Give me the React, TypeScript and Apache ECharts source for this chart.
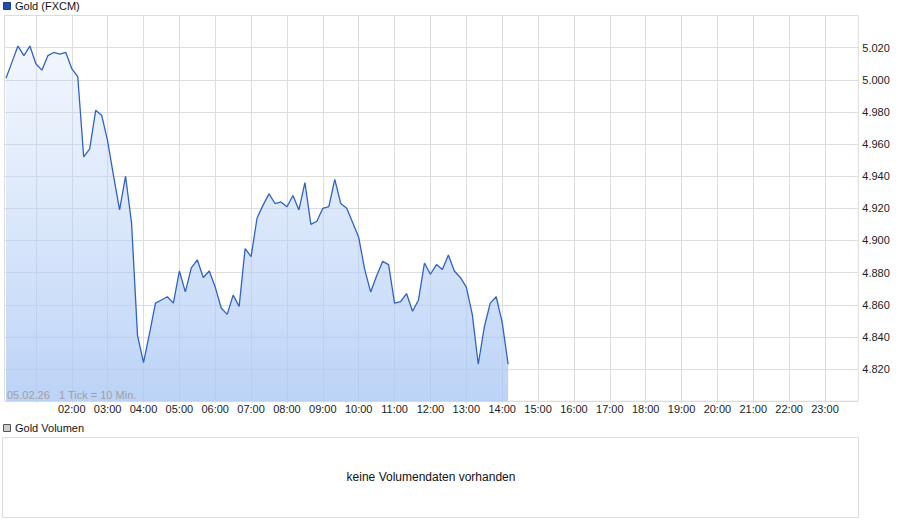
import React, { useEffect, useRef } from "react";
import * as echarts from "echarts";

// Gold (FXCM) intraday, 10-minute ticks starting 00:10, price in USD
const startMinute = 10;
const stepMinutes = 10;
const prices = [
  5001, 5011, 5021, 5015, 5021, 5010, 5006, 5015, 5017, 5016,
  5017, 5007, 5002, 4952, 4957, 4981, 4978, 4962, 4940, 4919,
  4940, 4911, 4841, 4824, 4842, 4861, 4863, 4865, 4861, 4881,
  4868, 4883, 4888, 4877, 4881, 4871, 4858, 4854, 4866, 4859,
  4895, 4890, 4914, 4922, 4929, 4923, 4924, 4921, 4928, 4919,
  4936, 4910, 4912, 4920, 4921, 4938, 4923, 4920, 4911, 4902,
  4882, 4868, 4878, 4887, 4885, 4861, 4862, 4867, 4856, 4863,
  4886, 4879, 4885, 4882, 4891, 4881, 4877, 4871, 4854, 4823,
  4846, 4861, 4865, 4849, 4823,
];
const hourLabelValues = [2, 3, 4, 5, 6, 7, 8, 9, 10, 11, 12, 13, 14, 15, 16, 17, 18, 19, 20, 21, 22, 23];
const hourGridValues = [1, 2, 3, 4, 5, 6, 7, 8, 9, 10, 11, 12, 13, 14, 15, 16, 17, 18, 19, 20, 21, 22, 23];
const yMin = 4800;
const yMax = 5040;
const yStep = 20;
const legendTitle = "Gold (FXCM)";
const dateNote = "05.02.26   1 Tick = 10 Min.";
const volumeTitle = "Gold Volumen";
const volumeNote = "keine Volumendaten vorhanden";

const FONT = "'Liberation Sans', Arial, sans-serif";

function fmtPrice(v: number): string {
  const r = Math.round(v);
  const th = Math.floor(r / 1000);
  const rest = String(r % 1000).padStart(3, "0");
  return th + "." + rest;
}

function fmtHour(m: number): string {
  const h = Math.round(m / 60);
  return String(h).padStart(2, "0") + ":00";
}

export default function App() {
  const ref = useRef<HTMLDivElement>(null);
  useEffect(() => {
    document.body.style.margin = "0";
    if (!ref.current) return;
    const chart = echarts.init(ref.current, undefined, { renderer: "svg" });
    const data = prices.map((p, i) => [startMinute + i * stepMinutes, p]);
    const option: any = {
      animation: false,
      backgroundColor: "#ffffff",
      grid: {
        left: 4.5,
        top: 15.5,
        width: 853.8,
        height: 385.7,
        show: true,
        borderColor: "#dddddd",
        borderWidth: 1,
        containLabel: false,
      },
      xAxis: {
        type: "value",
        min: 7.5,
        max: 1435.7,
        axisLine: { show: false },
        axisTick: {
          show: true,
          length: 2,
          lineStyle: { color: "#dddddd" },
          customValues: hourGridValues.map((h) => h * 60),
        },
        splitLine: { show: true, lineStyle: { color: "#dddddd", width: 1 } },
        axisLabel: {
          customValues: hourLabelValues.map((h) => h * 60),
          formatter: (v: number) => fmtHour(v),
          fontSize: 11,
          fontFamily: FONT,
          color: "#222222",
          margin: 2,
        },
      },
      yAxis: {
        type: "value",
        position: "right",
        min: yMin,
        max: yMax,
        interval: yStep,
        axisLine: { show: false },
        axisTick: { show: false },
        splitLine: { show: true, lineStyle: { color: "#dddddd", width: 1 } },
        axisLabel: {
          formatter: (v: number) => (v === yMin || v === yMax ? "" : fmtPrice(v)),
          fontSize: 11,
          fontFamily: FONT,
          color: "#222222",
          margin: 4,
          align: "left",
        },
      },
      series: [
        {
          type: "line",
          data,
          symbol: "none",
          lineStyle: { color: "#2e62c8", width: 1.3 },
          areaStyle: {
            opacity: 1,
            color: new echarts.graphic.LinearGradient(0, 0, 0, 1, [
              { offset: 0, color: "rgba(190,212,248,0.2)" },
              { offset: 1, color: "rgba(170,200,245,0.8)" },
            ]),
            origin: "start",
          },
          z: 3,
        },
      ],
      graphic: [
        {
          type: "rect",
          shape: { x: 3.5, y: 2.5, width: 7, height: 7 },
          style: { fill: "#1d50b0", stroke: "#1a3f80", lineWidth: 1 },
        },
        {
          type: "text",
          x: 15,
          y: 6,
          style: {
            text: legendTitle,
            fontSize: 11,
            fontFamily: FONT,
            fill: "#111111",
            verticalAlign: "middle",
          },
        },
        {
          type: "text",
          x: 7,
          y: 395,
          z: 10,
          style: {
            text: dateNote,
            fontSize: 11,
            fontFamily: FONT,
            fill: "#a0a0a0",
            verticalAlign: "middle",
          },
        },
        {
          type: "rect",
          shape: { x: 3.5, y: 424.5, width: 7, height: 7 },
          style: { fill: "#cccccc", stroke: "#555555", lineWidth: 1 },
        },
        {
          type: "text",
          x: 15,
          y: 428,
          style: {
            text: volumeTitle,
            fontSize: 11,
            fontFamily: FONT,
            fill: "#111111",
            verticalAlign: "middle",
          },
        },
        {
          type: "rect",
          shape: { x: 2.5, y: 437.5, width: 856, height: 80 },
          style: { fill: "none", stroke: "#dddddd", lineWidth: 1 },
        },
        {
          type: "text",
          x: 431,
          y: 477,
          style: {
            text: volumeNote,
            fontSize: 12,
            fontFamily: FONT,
            fill: "#111111",
            align: "center",
            verticalAlign: "middle",
          },
        },
      ],
    };
    chart.setOption(option);
    return () => chart.dispose();
  }, []);
  return (
    <div
      ref={ref}
      style={{ position: "absolute", left: 0, top: 0, width: 900, height: 526 }}
    />
  );
}
